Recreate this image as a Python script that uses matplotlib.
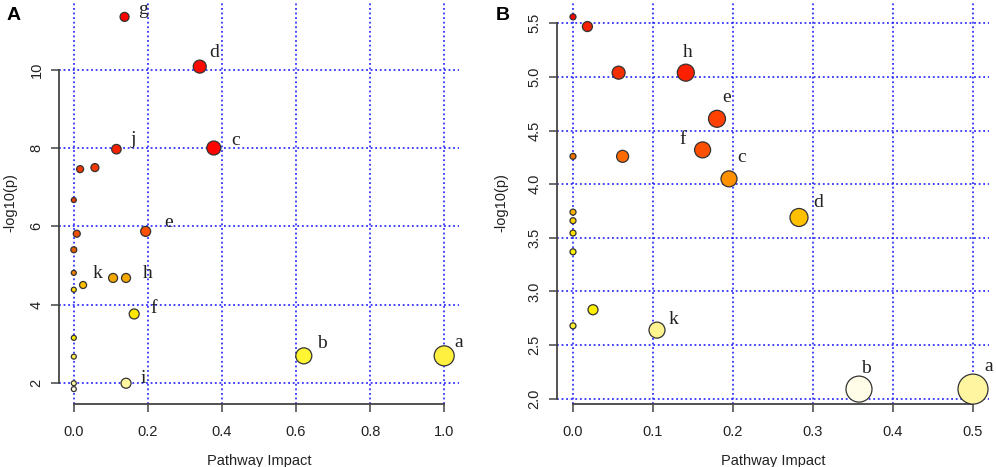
import numpy as np
import matplotlib
matplotlib.use('Agg')
import matplotlib.pyplot as plt

# Panel A
a_impact = [0.137, 0.340, 0.378, 0.115, 0.017, 0.057, 0.0, 0.008, 0.194, 0.0, 0.0,
            0.106, 0.141, 0.025, 0.0, 0.163, 0.0, 0.0, 0.0, 0.0, 0.141, 0.621, 1.0]
a_logp = [11.35, 10.08, 8.00, 7.97, 7.46, 7.50, 6.67, 5.81, 5.87, 5.40, 4.81,
          4.68, 4.68, 4.50, 4.38, 3.76, 3.15, 2.67, 1.99, 1.84, 1.99, 2.69, 2.69]
a_names = ['g', 'd', 'c', 'j', '', '', '', '', 'e', '', '',
           'k', 'h', '', '', 'f', '', '', '', '', 'i', 'b', 'a']
a_xticks = [0.0, 0.2, 0.4, 0.6, 0.8, 1.0]
a_yticks = [2, 4, 6, 8, 10]

# Panel B
b_impact = [0.0, 0.018, 0.057, 0.141, 0.180, 0.162, 0.0, 0.062, 0.195, 0.2825,
            0.0, 0.0, 0.0, 0.0, 0.025, 0.0, 0.105, 0.3575, 0.5]
b_logp = [5.56, 5.47, 5.04, 5.04, 4.61, 4.32, 4.26, 4.26, 4.05, 3.69,
          3.74, 3.66, 3.545, 3.37, 2.83, 2.68, 2.64, 2.09, 2.09]
b_names = ['', '', '', 'h', 'e', 'f', '', '', 'c', 'd',
           '', '', '', '', '', '', 'k', 'b', 'a']
b_xticks = [0.0, 0.1, 0.2, 0.3, 0.4, 0.5]
b_yticks = [2.0, 2.5, 3.0, 3.5, 4.0, 4.5, 5.0, 5.5]

# styling: marker diameters (px), fill colours, label offsets (px, right/down)
a_diam = [9, 13, 14, 9.5, 7, 8, 5, 7, 10, 6, 5, 9, 9, 7, 5, 10, 5, 5, 5, 5, 10, 16, 20]
a_cols = ['#FF0000', '#FF0A00', '#FF0500', '#F52000', '#F03800', '#F03800', '#EE4000',
          '#F05000', '#FF5000', '#E06000', '#F08000', '#F5A800', '#F5A800', '#FFC000',
          '#FFE000', '#FFE800', '#FFEE00', '#FFF050', '#FFF8A0', '#FFFCE0', '#FFF8A0',
          '#FFF530', '#FFF040']
a_offs = {'g': (18, -7), 'd': (14, -14), 'c': (22, -8), 'j': (17, -10), 'e': (23, -9),
          'k': (-16, -4), 'h': (22, -4), 'f': (19, -5), 'i': (17, -5), 'b': (18, -12),
          'a': (15, -13)}
b_diam = [6, 10, 13, 17, 17, 16, 6, 12, 16, 18, 6, 6, 6, 6, 10, 6, 16, 26, 30]
b_cols = ['#FF0000', '#F52000', '#F53000', '#FF2000', '#FF4000', '#FF5000', '#F07000',
          '#FF6A00', '#FF9000', '#FFC000', '#FFB000', '#FFD000', '#FFE000', '#FFF000',
          '#FFF000', '#FFF030', '#FFF490', '#FFFDE8', '#FFF5A0']
b_offs = {'h': (2, -20), 'e': (10, -21), 'f': (-20, -10), 'c': (13, -21), 'd': (19, -15),
          'k': (17, -11), 'b': (7, -21), 'a': (16, -23)}

plt.rcParams['font.family'] = 'Liberation Sans'
DPI = 100
PX = 72 / DPI

fig = plt.figure(figsize=(9.96, 4.67), dpi=DPI)


def panel(rect, xs, ys, names, diam, cols, offs, xticks, yticks, fmt, ylab_x):
    ax = fig.add_axes(rect)
    xs = np.array(xs)
    ys = np.array(ys)
    # R-style 4% extension of the data range
    xr = xs.max() - xs.min()
    yr = ys.max() - ys.min()
    ax.set_xlim(xs.min() - 0.04 * xr, xs.max() + 0.04 * xr)
    ax.set_ylim(ys.min() - 0.04 * yr, ys.max() + 0.04 * yr)

    ax.set_xticks(xticks)
    ax.set_xticklabels(['%.1f' % t for t in xticks])
    ax.set_yticks(yticks)
    ax.set_yticklabels([fmt % t for t in yticks], rotation=90, va='center')
    ax.grid(True, color='#1010FF', linestyle=(0, (1.2, 1.8)), linewidth=1.1)
    ax.set_axisbelow(True)

    for s in ['top', 'right']:
        ax.spines[s].set_visible(False)
    for s in ['left', 'bottom']:
        ax.spines[s].set_color('#444444')
        ax.spines[s].set_linewidth(1.3)
    ax.spines['bottom'].set_bounds(xticks[0], xticks[-1])
    ax.spines['left'].set_bounds(yticks[0], yticks[-1])
    ax.tick_params(axis='both', direction='out', length=6, width=1.1, color='#444444',
                   labelsize=10.5, labelcolor='#222222')
    ax.tick_params(axis='x', pad=9)
    ax.tick_params(axis='y', pad=5)

    sizes = [(d * PX) ** 2 for d in diam]
    ax.scatter(xs, ys, s=sizes, c=cols, edgecolors='#333333', linewidths=0.9,
               zorder=3, clip_on=False)
    for x, y, n in zip(xs, ys, names):
        if n:
            dx, dy = offs[n]
            ax.annotate(n, (x, y), xytext=(dx * PX, -dy * PX), textcoords='offset points',
                        ha='center', va='center', fontsize=14, family='Liberation Serif',
                        color='#222222', annotation_clip=False)

    ax.set_xlabel('Pathway Impact', fontsize=10.5, color='#222222')
    ax.set_ylabel('-log10(p)', fontsize=10.5, color='#222222')
    ax.xaxis.set_label_coords(0.5, -0.125)
    ax.yaxis.set_label_coords(ylab_x, 0.5)
    return ax


H = 467.0
W = 996.0
panel([59 / W, 1 - 404 / H, 400 / W, 402 / H], a_impact, a_logp, a_names, a_diam,
      a_cols, a_offs, a_xticks, a_yticks, '%d', -0.103)
panel([557 / W, 1 - 404 / H, 432 / W, 402 / H], b_impact, b_logp, b_names, b_diam,
      b_cols, b_offs, b_xticks, b_yticks, '%.1f', -0.112)

fig.text(14 / W, 1 - 15 / H, 'A', fontsize=14, fontweight='bold', ha='center', va='center')
fig.text(503 / W, 1 - 15 / H, 'B', fontsize=14, fontweight='bold', ha='center', va='center')

fig.savefig('out.png', dpi=DPI)
